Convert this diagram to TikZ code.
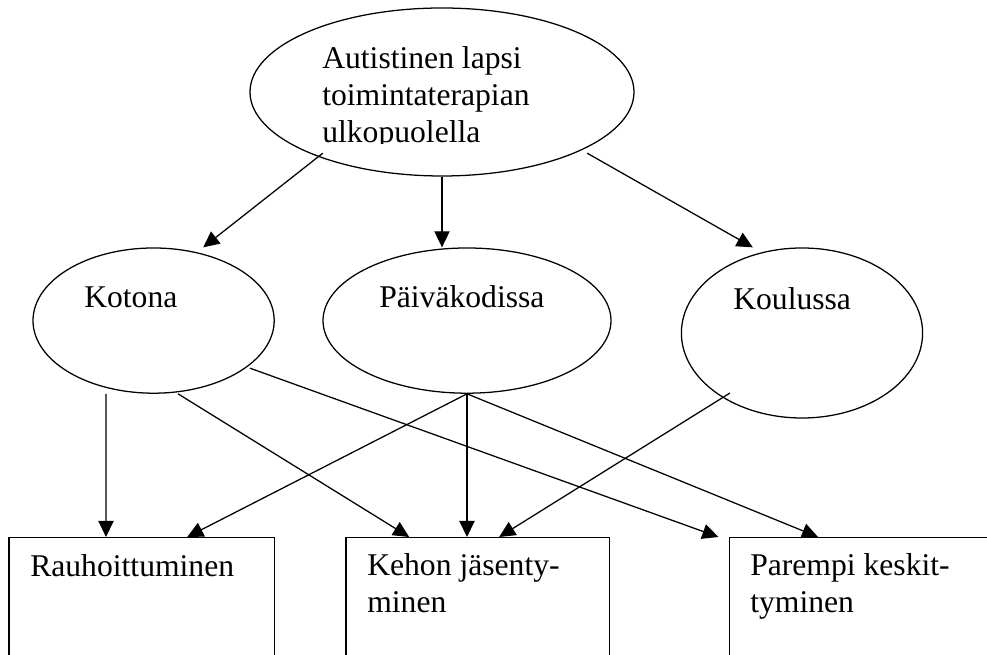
\documentclass[tikz,border=0pt]{standalone}
\usepackage{fontspec}
\setmainfont{Liberation Serif}
\usetikzlibrary{arrows.meta,shapes.geometric}

\tikzset{
  soikio/.style={draw, ellipse, line width=0.9pt, inner sep=0pt},
  laatikko/.style={draw, rectangle, line width=0.9pt, inner sep=0pt, anchor=north,
    minimum height=3.75cm},
  teksti/.style={anchor=base west, inner sep=0pt, align=left,
    font=\fontsize{22.5}{26.5}\selectfont},
  nuoli/.style={-{Triangle[length=0.4cm,width=0.38cm]}, line width=0.9pt}
}

\begin{document}
\begin{tikzpicture}
        \useasboundingbox (0,0) rectangle (24.675,16.375);
        \clip (0,0) rectangle (24.675,16.375);

        % Soikiot
        \node[soikio, minimum width=9.6cm, minimum height=4.2cm] (E0) at (11.05,14.075) {};
        \node[soikio, minimum width=6.03cm, minimum height=3.63cm] (E1) at (3.84,8.36) {};
        \node[soikio, minimum width=7.2cm, minimum height=3.63cm] (E2) at (11.675,8.36) {};
        \node[soikio, minimum width=6.03cm, minimum height=4.25cm] (E3) at (20.05,8.05) {};

        % Laatikot
        \node[laatikko, minimum width=6.63cm] (B1) at (3.54,2.95) {};
        \node[laatikko, minimum width=6.58cm] (B2) at (11.94,2.95) {};
        \node[laatikko, minimum width=6.63cm] (B3) at (21.56,2.95) {};

        % Tekstit (base = viimeinen rivi)
        \begin{scope}
          \clip (7,16.375) rectangle (16,12.775);
          \node[teksti] (T0) at (8.05,12.8) {Autistinen lapsi\\toimintaterapian\\ulkopuolella};
        \end{scope}
        \node[teksti] (T1) at (2.1,8.675) {Kotona};
        \node[teksti] (T2) at (9.475,8.675) {Päiväkodissa};
        \node[teksti] (T3) at (18.325,8.625) {Koulussa};
        \node[teksti] (T4) at (0.75,1.95) {Rauhoittuminen};
        \node[teksti] (T5) at (9.175,1.05) {Kehon jäsenty-\\minen};
        \node[teksti] (T6) at (18.75,1.05) {Parempi keskit-\\tyminen};

        % Nuolet ylhäältä
        \draw[nuoli] ([xshift=-2.98cm,yshift=-1.53cm]E0.center) -- ([xshift=1.24cm]E1.north);
        \draw[nuoli] (E0.south) -- (E0.south |- E2.north);
        \draw[nuoli] ([xshift=3.63cm,yshift=-1.53cm]E0.center) -- ([xshift=-1.23cm]E3.north);

        % Nuolet alas
        \draw[nuoli] ([xshift=-1.19cm]E1.south) -- ([xshift=-0.89cm]B1.north);
        \draw[nuoli] ([xshift=0.61cm]E1.south) -- ([xshift=-1.71cm]B2.north);
        \draw[nuoli] ([xshift=2.41cm,yshift=-1.19cm]E1.center) -- ([xshift=-3.6cm]B3.north);

        \draw[nuoli] (E2.south) -- ([xshift=1.14cm]B1.north);
        \draw[nuoli] (E2.south) -- (E2.south |- B2.north);
        \draw[nuoli] (E2.south) -- ([xshift=-1.11cm]B3.north);

        \draw[nuoli] ([xshift=-1.8cm,yshift=-1.5cm]E3.center) -- ([xshift=0.54cm]B2.north);
    \end{tikzpicture}
\end{document}
